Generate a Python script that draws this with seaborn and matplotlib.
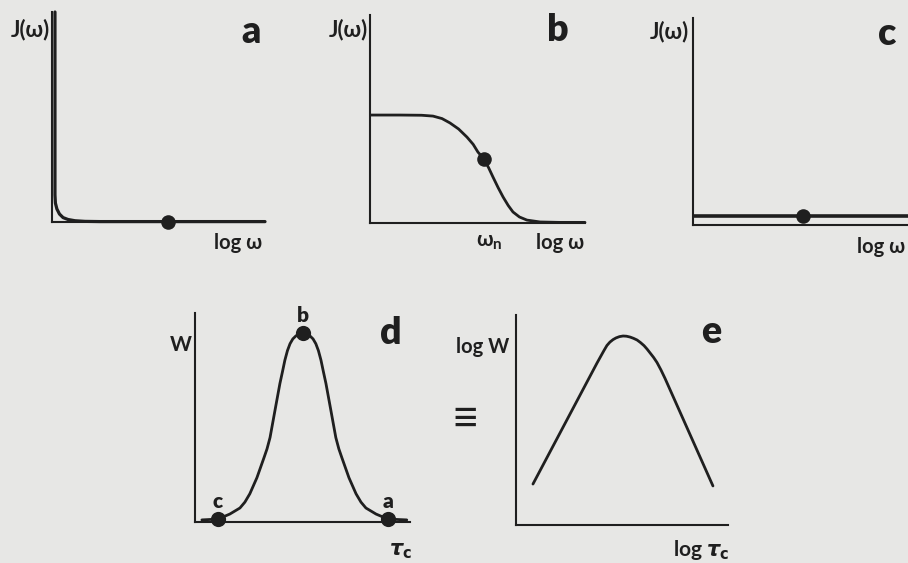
import matplotlib
matplotlib.use("Agg")
import matplotlib.pyplot as plt
import seaborn as sns

# ---------------------------------------------------------------
# Curve samples (x, y in percent of each panel's axis range)
# ---------------------------------------------------------------
# a: spectral density for very fast motion collapsed onto the axes
a_x = [1.4, 1.4, 1.6, 2.3, 3.5, 5.2, 7.5, 10.8, 15.5, 22.5, 100.0]
a_y = [100.0, 12.9, 9.0, 6.2, 3.8, 2.1, 1.2, 0.6, 0.3, 0.2, 0.2]
a_dot = (54.5, 0.0)

# b: Lorentzian-like J(omega) with the dot at omega_n
b_x = [0.5, 14.0, 24.0, 29.3, 33.5, 37.2, 41.2, 45.1, 48.0, 50.2, 53.0,
       55.2, 57.2, 59.6, 61.9, 64.3, 66.5, 69.5, 73.0, 79.1, 88.0, 100.0]
b_y = [51.9, 51.9, 51.8, 51.4, 50.2, 48.1, 45.2, 41.3, 37.8, 34.1, 30.8,
       26.5, 22.1, 17.0, 12.5, 8.4, 5.3, 2.9, 1.4, 0.5, 0.3, 0.3]
b_dot = (53.0, 30.8)
b_tick = [53.0]

# c: flat J(omega) for slow motion
c_x = [0.5, 100.0]
c_y = [4.3, 4.3]
c_dot = (50.7, 4.3)

# d: W versus tau_c, points a, b, c mark the three regimes
d_x = [3.2, 10.7, 16.2, 20.9, 23.2, 25.5, 28.8, 32.1, 33.5, 34.9, 37.2,
       39.5, 40.7, 41.8, 43.0, 44.2, 45.5, 46.9, 48.3, 50.2, 52.1, 53.5,
       54.9, 56.2, 57.4, 58.6, 59.7, 60.9, 63.2, 65.5, 66.9, 68.3, 71.6,
       74.9, 77.2, 79.5, 84.2, 89.7, 98.5]
d_y = [1.0, 1.4, 3.8, 6.7, 9.5, 13.5, 21.2, 30.8, 35.0, 40.4, 53.4,
       66.3, 72.0, 77.4, 82.0, 85.3, 87.6, 89.0, 90.0, 90.4, 90.0, 89.0,
       87.6, 85.3, 82.0, 77.4, 72.0, 66.3, 53.4, 40.4, 35.0, 30.8, 21.2,
       13.5, 9.5, 6.7, 3.8, 1.4, 1.0]
d_pts_x = [10.7, 50.2, 89.7]
d_pts_y = [1.4, 90.4, 1.4]
d_pts_lab = ["c", "b", "a"]

# e: log W versus log tau_c
e_x = [8.0, 38.2, 39.9, 41.5, 42.9, 44.3, 45.8, 47.2, 48.8, 50.5, 52.1,
       53.8, 55.4, 57.1, 58.7, 60.4, 61.8, 63.2, 64.9, 66.5, 68.4, 70.3, 92.9]
e_y = [19.5, 77.1, 80.2, 83.1, 85.5, 87.1, 88.3, 89.1, 89.7, 90.0, 89.9,
       89.5, 88.9, 88.1, 86.9, 85.4, 83.8, 82.0, 79.8, 77.4, 73.8, 69.8, 18.6]

# ---------------------------------------------------------------
W, H = 908, 563
BG = "#e7e7e5"
INK = "#1f1f1f"

sns.set_style("white")
plt.rcParams["font.family"] = ["Lato", "DejaVu Sans"]
plt.rcParams["font.weight"] = "bold"
plt.rcParams["mathtext.fontset"] = "dejavusans"

fig = plt.figure(figsize=(W / 100, H / 100), dpi=100, facecolor=BG)


def panel(x0, y0, x1, y1):
    ax = fig.add_axes([x0 / W, 1 - y1 / H, (x1 - x0) / W, (y1 - y0) / H])
    ax.set_facecolor("none")
    ax.set_xlim(0, 100)
    ax.set_ylim(0, 100)
    for s in ("top", "right"):
        ax.spines[s].set_visible(False)
    for s in ("left", "bottom"):
        ax.spines[s].set_linewidth(1.5)
        ax.spines[s].set_color(INK)
    ax.set_xticks([])
    ax.set_yticks([])
    return ax


def curve(ax, xs, ys, lw=2.0):
    sns.lineplot(x=xs, y=ys, ax=ax, color=INK, linewidth=lw, sort=False,
                 estimator=None, clip_on=False)


def dots(ax, xs, ys, s=110):
    sns.scatterplot(x=xs, y=ys, ax=ax, color=INK, s=s, edgecolor=INK,
                    linewidth=0, clip_on=False, zorder=5)


def label(x, y, txt, size=15, ha="center", weight="bold", **kw):
    fig.text(x / W, 1 - y / H, txt, fontsize=size, ha=ha, va="center",
             color=INK, fontweight=weight, **kw)


# panel a
ax_a = panel(52, 12, 265, 222)
curve(ax_a, a_x, a_y, lw=2.3)
dots(ax_a, [a_dot[0]], [a_dot[1]])
label(30, 30, "J(ω)", size=16)
label(251, 32, "a", size=27, weight="heavy")
label(238, 243, "log ω", size=14.5)

# panel b
ax_b = panel(370, 15, 585, 223)
curve(ax_b, b_x, b_y)
dots(ax_b, [b_dot[0]], [b_dot[1]])
ax_b.set_xticks(b_tick)
ax_b.set_xticklabels([""])
ax_b.tick_params(axis="x", length=4, width=1.2, color=INK, pad=3)
label(485, 240, "ω", size=15)
label(496, 245, "n", size=11)
label(348, 30, "J(ω)", size=16)
label(558, 30, "b", size=27, weight="heavy")
label(560, 243, "log ω", size=14.5)

# panel c
ax_c = panel(693, 18, 910, 225)
curve(ax_c, c_x, c_y, lw=2.6)
dots(ax_c, [c_dot[0]], [c_dot[1]])
label(669, 32, "J(ω)", size=16)
label(887, 34, "c", size=27, weight="heavy")
label(905, 247, "log ω", size=14.5, ha="right")

# panel d
ax_d = panel(195, 313, 410, 522)
curve(ax_d, d_x, d_y)
dots(ax_d, d_pts_x, d_pts_y, s=120)
for px, py, t in zip(d_pts_x, d_pts_y, d_pts_lab):
    ax_d.annotate(t, (px, py), xytext=(0, 6), textcoords="offset points",
                  ha="center", va="bottom", fontsize=15, fontweight="heavy",
                  color=INK, annotation_clip=False)
label(181, 345, "W", size=15)
label(391, 333, "d", size=27, weight="heavy")
label(401, 551, r"$\tau_\mathbf{c}$", size=15)

# panel e
ax_e = panel(516, 315, 728, 525)
curve(ax_e, e_x, e_y)
label(509, 347, "log W", size=14.5, ha="right")
label(711, 332, "e", size=27, weight="heavy")
label(701, 550, r"log $\tau_\mathbf{c}$", size=15)

# equivalence sign between d and e
label(465, 420, "≡", size=34, weight="normal")

fig.savefig("out.png", dpi=100, facecolor=BG)
